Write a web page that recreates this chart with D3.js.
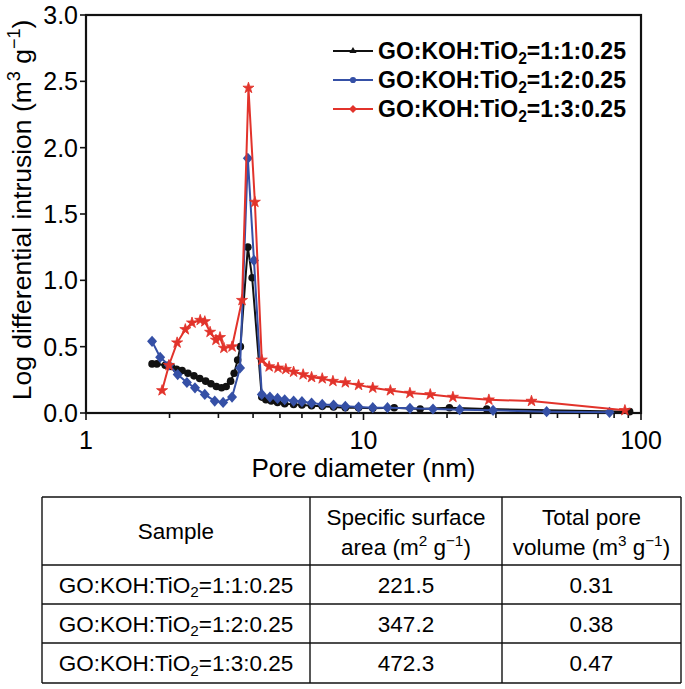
<!DOCTYPE html>
<html><head><meta charset="utf-8">
<script src="https://cdn.jsdelivr.net/npm/d3@7"></script>
<style>html,body{margin:0;padding:0;background:#fff;} svg{display:block;font-family:"Liberation Sans",Arial,sans-serif;}</style>
</head><body>
<svg id="c" width="685" height="689"></svg>
<script>
// ---- data ----
const poreBlack = [1.73,1.80,1.93,2.03,2.12,2.22,2.33,2.45,2.57,2.70,2.82,2.95,3.08,3.20,3.32,3.42,3.52,3.60,3.83,3.97,4.30,4.45,4.65,4.90,5.20,5.60,6.00,6.50,7.10,7.80,8.60,9.60,10.8,12.9,16.0,20.4,27.8,91];
const intrBlack = [0.37,0.37,0.36,0.35,0.33,0.32,0.30,0.28,0.26,0.24,0.22,0.20,0.19,0.20,0.24,0.30,0.40,0.50,1.25,1.02,0.12,0.10,0.09,0.08,0.07,0.065,0.06,0.055,0.05,0.045,0.04,0.04,0.035,0.04,0.03,0.04,0.03,0.01];
const poreBlue = [1.73,1.85,1.99,2.14,2.31,2.47,2.68,2.91,3.12,3.36,3.59,3.83,4.03,4.30,4.60,4.90,5.20,5.60,6.00,6.50,7.10,7.80,8.60,9.60,10.8,12.2,14.7,17.8,22.2,29.3,45.7,77];
const intrBlue = [0.54,0.42,0.36,0.29,0.23,0.19,0.14,0.09,0.08,0.12,0.34,1.92,1.15,0.14,0.12,0.11,0.10,0.09,0.085,0.075,0.065,0.06,0.05,0.045,0.04,0.04,0.035,0.03,0.025,0.02,0.01,0.005];
const poreRed = [1.88,1.99,2.13,2.28,2.41,2.58,2.68,2.80,2.94,3.04,3.14,3.36,3.65,3.85,4.06,4.30,4.57,4.92,5.25,5.60,6.06,6.50,7.10,7.76,8.60,9.60,10.8,12.5,14.7,17.4,21.0,28.3,40.3,87.5];
const intrRed = [0.17,0.36,0.53,0.63,0.68,0.70,0.69,0.61,0.55,0.57,0.49,0.50,0.85,2.45,1.59,0.40,0.35,0.34,0.33,0.31,0.29,0.27,0.26,0.24,0.23,0.21,0.19,0.17,0.15,0.14,0.12,0.10,0.09,0.02];
const seriesNames = ["1:1:0.25","1:2:0.25","1:3:0.25"];
const xTicks = [1,10,100];
const yTicks = [0,0.5,1.0,1.5,2.0,2.5,3.0];
const tableHeader = [["Sample"],["Specific surface","area (m² g⁻¹)"],["Total pore","volume (m³ g⁻¹)"]];
const surfaceArea = ["221.5","347.2","472.3"];
const poreVolume = ["0.31","0.38","0.47"];

// ---- layout ----
const svg = d3.select("#c");
const L=86, R=641, T=15, B=413;
const x = d3.scaleLog().domain([1,100]).range([L,R]);
const y = d3.scaleLinear().domain([0,3]).range([B,T]);
const colors = ["#111111","#3550a6","#e2332b"];
const FS = 25;

// rich text helper: parts = [[text, 'n'|'sup'|'sub'], ...]
function rich(sel, parts, size){
  let shift = 0;
  parts.forEach(([t,k])=>{
    let target = k==='sup' ? -0.42*size : (k==='sub' ? 0.22*size : 0);
    const ts = sel.append("tspan").text(t).attr("dy", target-shift);
    if(k!=='n') ts.attr("font-size", size*0.68);
    shift = target;
  });
}

// frame
svg.append("rect").attr("x",L).attr("y",T).attr("width",R-L).attr("height",B-T)
  .attr("fill","none").attr("stroke","#111").attr("stroke-width",2.2);

// x axis ticks
const minor = [];
[1,10].forEach(b=>{for(let i=2;i<=9;i++) minor.push(b*i);});
svg.append("g").selectAll("line.mn").data(minor).join("line")
  .attr("x1",d=>x(d)).attr("x2",d=>x(d)).attr("y1",B).attr("y2",B+5)
  .attr("stroke","#111").attr("stroke-width",1.6);
svg.append("g").selectAll("line.mj").data(xTicks).join("line")
  .attr("x1",d=>x(d)).attr("x2",d=>x(d)).attr("y1",B).attr("y2",B+7)
  .attr("stroke","#111").attr("stroke-width",1.6);
svg.append("g").selectAll("text").data(xTicks).join("text")
  .attr("x",d=>x(d)).attr("y",449).attr("text-anchor","middle")
  .attr("font-size",FS).text(d=>d);
svg.append("text").attr("x",(L+R)/2).attr("y",477).attr("text-anchor","middle")
  .attr("font-size",26).text("Pore diameter (nm)");

// y axis
svg.append("g").selectAll("line").data(yTicks).join("line")
  .attr("x1",L-6).attr("x2",L).attr("y1",d=>y(d)).attr("y2",d=>y(d))
  .attr("stroke","#111").attr("stroke-width",1.6);
svg.append("g").selectAll("text").data(yTicks).join("text")
  .attr("x",78).attr("y",d=>y(d)+9).attr("text-anchor","end")
  .attr("font-size",FS).text(d=>d.toFixed(1));
const yt = svg.append("text").attr("transform",`translate(31,${(T+B)/2 - 4}) rotate(-90)`)
  .attr("text-anchor","middle").attr("font-size",26.5);
rich(yt,[["Log differential intrusion (m",'n'],["3",'sup'],[" g",'n'],["−1",'sup'],[")",'n']],26.5);

// series
const series = [
  {px:poreBlack, py:intrBlack, c:colors[0], m:"circle"},
  {px:poreBlue, py:intrBlue, c:colors[1], m:"diamond"},
  {px:poreRed, py:intrRed, c:colors[2], m:"star"}
];
const line = d3.line().x(d=>x(d[0])).y(d=>y(d[1]));
const diamondPath = "M0,-5.6L5,0L0,5.6L-5,0Z";
const starPath = d3.symbol().type(d3.symbolStar).size(38)();
series.forEach(s=>{
  const pts = s.px.map((d,i)=>[d,s.py[i]]);
  svg.append("path").datum(pts).attr("d",line).attr("fill","none")
    .attr("stroke",s.c).attr("stroke-width",2).attr("stroke-linejoin","round");
  const g = svg.append("g");
  if(s.m==="circle"){
    g.selectAll("circle").data(pts).join("circle").attr("cx",d=>x(d[0])).attr("cy",d=>y(d[1]))
      .attr("r",3.8).attr("fill",s.c);
  } else {
    g.selectAll("path").data(pts).join("path")
      .attr("transform",d=>`translate(${x(d[0])},${y(d[1])})`)
      .attr("d", s.m==="diamond"?diamondPath:starPath).attr("fill",s.c)
      .attr("stroke",s.c).attr("stroke-width",s.m==="star"?0.8:0);
  }
});

// legend
const legMarkers = [
  d3.symbol().type(d3.symbolTriangle).size(22)(),
  d3.symbol().type(d3.symbolCircle).size(30)(),
  "M0,-4L4,0L0,4L-4,0Z"
];
seriesNames.forEach((n,i)=>{
  const cy = 51 + i*29;
  svg.append("line").attr("x1",333).attr("x2",373).attr("y1",cy).attr("y2",cy)
    .attr("stroke",colors[i]).attr("stroke-width",2.2);
  svg.append("path").attr("d",legMarkers[i]).attr("transform",`translate(353,${cy})`).attr("fill",colors[i]);
  const t = svg.append("text").attr("x",378).attr("y",cy+8).attr("font-size",23).attr("font-weight","bold");
  rich(t,[["GO:KOH:TiO",'n'],["2",'sub'],["="+n,'n']],23);
});

// table
const tx = [42,310,502,681], ty=[497,565,604,643,683];
const tg = svg.append("g").attr("stroke","#111").attr("stroke-width",1.4);
ty.forEach(v=>tg.append("line").attr("x1",tx[0]).attr("x2",tx[3]).attr("y1",v).attr("y2",v));
tx.forEach(v=>tg.append("line").attr("x1",v).attr("x2",v).attr("y1",ty[0]).attr("y2",ty[4]));
const TF = 22.5;
const cx = i=>(tx[i]+tx[i+1])/2;
// header
svg.append("text").attr("x",cx(0)).attr("y",539).attr("text-anchor","middle").attr("font-size",TF).text(tableHeader[0][0]);
svg.append("text").attr("x",cx(1)).attr("y",525).attr("text-anchor","middle").attr("font-size",TF).text(tableHeader[1][0]);
rich(svg.append("text").attr("x",cx(1)).attr("y",555).attr("text-anchor","middle").attr("font-size",TF),
  [["area (m",'n'],["2",'sup'],[" g",'n'],["−1",'sup'],[")",'n']],TF);
svg.append("text").attr("x",cx(2)).attr("y",525).attr("text-anchor","middle").attr("font-size",TF).text(tableHeader[2][0]);
rich(svg.append("text").attr("x",cx(2)).attr("y",555).attr("text-anchor","middle").attr("font-size",TF),
  [["volume (m",'n'],["3",'sup'],[" g",'n'],["−1",'sup'],[")",'n']],TF);
seriesNames.forEach((n,i)=>{
  const yy = (ty[i+1]+ty[i+2])/2 + 8;
  rich(svg.append("text").attr("x",cx(0)).attr("y",yy).attr("text-anchor","middle").attr("font-size",TF),
    [["GO:KOH:TiO",'n'],["2",'sub'],["="+n,'n']],TF);
  svg.append("text").attr("x",cx(1)).attr("y",yy).attr("text-anchor","middle").attr("font-size",TF).text(surfaceArea[i]);
  svg.append("text").attr("x",cx(2)).attr("y",yy).attr("text-anchor","middle").attr("font-size",TF).text(poreVolume[i]);
});
</script>
</body></html>
